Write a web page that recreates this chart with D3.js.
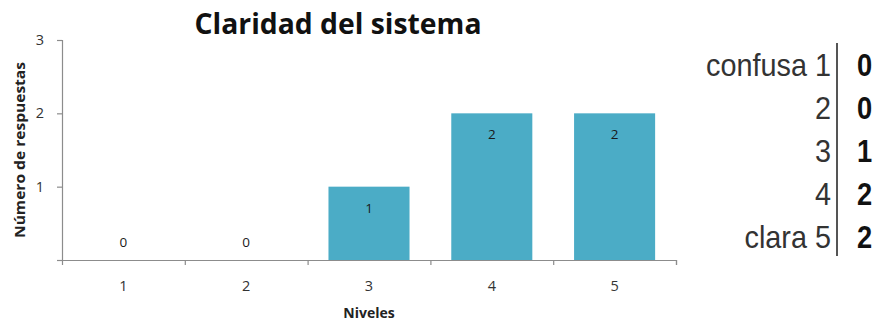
<!DOCTYPE html>
<html>
<head>
<meta charset="utf-8">
<script src="https://cdn.jsdelivr.net/npm/d3@7"></script>
<style>
  html, body { margin: 0; padding: 0; background: #fff; }
  svg { display: block; }
</style>
</head>
<body>
<svg id="chart" width="875" height="322"></svg>
<script>
// Response counts per clarity level
const levels = ["1", "2", "3", "4", "5"];
const counts = [0, 0, 1, 2, 2];
const yTicks = [0, 1, 2, 3];
// Side summary table: scale anchors
const anchorLabels = ["confusa", "", "", "", "clara"];

const svg = d3.select("#chart");
const sans = "'Open Sans', Lato, sans-serif";

const plot = { left: 62, right: 676, top: 40, bottom: 260 };

const x = d3.scaleBand()
  .domain(levels)
  .range([plot.left, plot.right])
  .paddingInner(0.34)
  .paddingOuter(0.17);

const y = d3.scaleLinear()
  .domain([0, 3])
  .range([plot.bottom, plot.top]);

// Bars
svg.append("g")
  .selectAll("rect")
  .data(levels)
  .join("rect")
  .attr("x", d => x(d))
  .attr("y", (d, i) => y(counts[i]))
  .attr("width", x.bandwidth())
  .attr("height", (d, i) => y(0) - y(counts[i]))
  .attr("fill", "#4bacc6");

// Value labels
svg.append("g")
  .selectAll("text")
  .data(levels)
  .join("text")
  .attr("x", d => x(d) + x.bandwidth() / 2)
  .attr("y", (d, i) => counts[i] > 0 ? y(counts[i]) + 26 : y(0) - 13)
  .attr("text-anchor", "middle")
  .attr("font-family", sans)
  .attr("font-size", 13.5)
  .attr("fill", "#1a1a1a")
  .text((d, i) => counts[i]);

// Y axis (zero tick left unlabeled)
const yAxis = svg.append("g")
  .attr("transform", `translate(${plot.left},0)`)
  .call(d3.axisLeft(y).tickValues(yTicks).tickSize(5).tickPadding(13)
    .tickFormat(d => d === 0 ? "" : d3.format("d")(d)));

// X axis with ticks at category boundaries
const xBoundary = d3.scaleLinear().domain([0, levels.length]).range([plot.left, plot.right]);
const xAxisG = svg.append("g")
  .attr("transform", `translate(0,${plot.bottom})`);
xAxisG.call(d3.axisBottom(xBoundary).tickValues(d3.range(0, levels.length + 1)).tickSize(5).tickFormat(""));
xAxisG.selectAll(".tick").filter(d => d === 0).remove();
xAxisG.append("g")
  .selectAll("text")
  .data(levels)
  .join("text")
  .attr("x", d => x(d) + x.bandwidth() / 2)
  .attr("y", 31)
  .attr("text-anchor", "middle")
  .attr("font-family", sans)
  .attr("font-size", 14.5)
  .attr("fill", "#333")
  .text(d => d);

[yAxis, xAxisG].forEach(g => {
  g.select(".domain").attr("stroke", "#8c8c8c").attr("stroke-width", 1.2);
  g.selectAll(".tick line").attr("stroke", "#8c8c8c").attr("stroke-width", 1.2);
  g.selectAll(".tick text").attr("font-family", sans).attr("font-size", 14.5).attr("fill", "#333");
});

// Title
svg.append("text")
  .attr("x", 338)
  .attr("y", 34)
  .attr("text-anchor", "middle")
  .attr("font-family", sans)
  .attr("font-weight", "bold")
  .attr("font-size", 28)
  .attr("textLength", 287)
  .attr("lengthAdjust", "spacingAndGlyphs")
  .attr("fill", "#111")
  .text("Claridad del sistema");

// Axis titles
svg.append("text")
  .attr("transform", "translate(25,150) rotate(-90)")
  .attr("text-anchor", "middle")
  .attr("font-family", sans)
  .attr("font-weight", "bold")
  .attr("font-size", 14)
  .attr("textLength", 176)
  .attr("lengthAdjust", "spacingAndGlyphs")
  .attr("fill", "#222")
  .text("Número de respuestas");

svg.append("text")
  .attr("x", 369)
  .attr("y", 318)
  .attr("text-anchor", "middle")
  .attr("font-family", sans)
  .attr("font-weight", "bold")
  .attr("font-size", 14)
  .attr("fill", "#222")
  .text("Niveles");

// Side table: level on the left of the rule, count on the right
const rowY = d3.scalePoint().domain(levels).range([76, 248]);
const narrow = "'Liberation Sans Narrow', 'Liberation Sans', Arial, sans-serif";

const table = svg.append("g");
table.append("line")
  .attr("x1", 837).attr("x2", 837)
  .attr("y1", 43).attr("y2", 256)
  .attr("stroke", "#555")
  .attr("stroke-width", 2);

table.selectAll("text.lvl")
  .data(levels)
  .join("text")
  .attr("class", "lvl")
  .attr("transform", d => `translate(831,${rowY(d)}) scale(0.93,1)`)
  .attr("text-anchor", "end")
  .attr("font-family", narrow)
  .attr("font-size", 31)
  .attr("fill", "#333")
  .text((d, i) => (anchorLabels[i] ? anchorLabels[i] + " " : "") + d);

table.selectAll("text.cnt")
  .data(levels)
  .join("text")
  .attr("class", "cnt")
  .attr("transform", d => `translate(857,${rowY(d)}) scale(0.88,1)`)
  .attr("font-family", narrow)
  .attr("font-weight", "bold")
  .attr("font-size", 31)
  .attr("fill", "#111")
  .text((d, i) => counts[i]);
</script>
</body>
</html>
